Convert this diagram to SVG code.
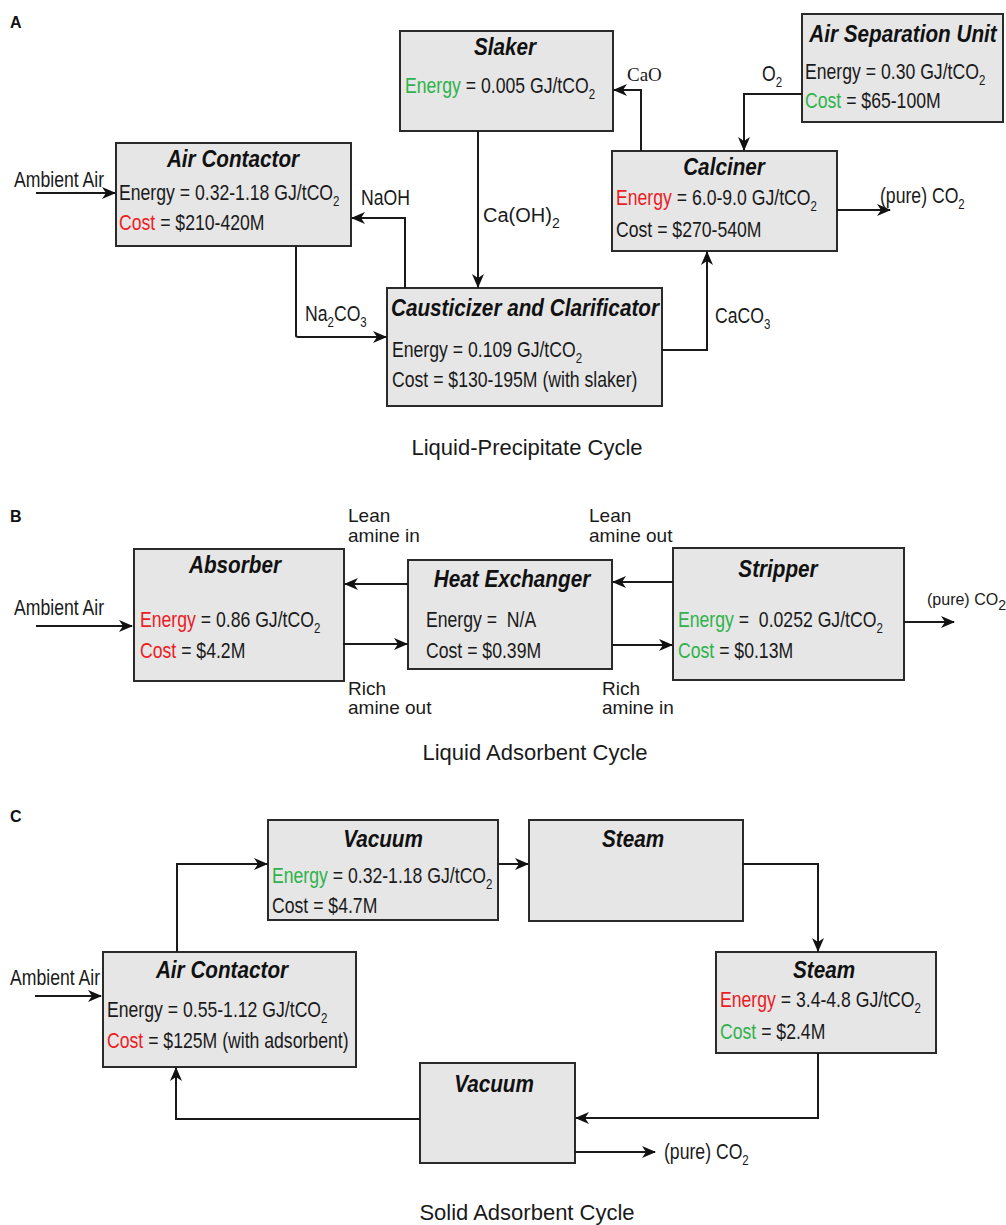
<svg xmlns="http://www.w3.org/2000/svg" width="1006" height="1225" viewBox="0 0 1006 1225">
<style>
.bg{fill:#ffffff}
.box{fill:#e6e6e6;stroke:#2a2a2a;stroke-width:2}
.t{font-family:"Liberation Sans",Arial,sans-serif;font-size:21.5px;fill:#1a1a1a}
.h{font-family:"Liberation Sans",Arial,sans-serif;font-size:23px;font-weight:bold;font-style:italic;fill:#111;text-anchor:middle}
.l{font-family:"Liberation Sans",Arial,sans-serif;font-size:20px;fill:#1a1a1a}
.lb{font-family:"Liberation Sans",Arial,sans-serif;font-size:19px;fill:#1a1a1a}
.cap{font-family:"Liberation Sans",Arial,sans-serif;font-size:22px;fill:#1a1a1a;text-anchor:middle}
.sec{font-family:"Liberation Sans",Arial,sans-serif;font-size:16px;font-weight:bold;fill:#111}
.serif{font-family:"Liberation Serif","Times New Roman",serif;font-size:19px;fill:#1a1a1a}
.r{fill:#ec1c24}
.g{fill:#2fb34a}
.s{font-size:14px}
.ln{fill:none;stroke:#1a1a1a;stroke-width:2;marker-end:url(#ah)}
</style>
<defs>
<marker id="ah" markerUnits="userSpaceOnUse" viewBox="0 0 14 12" refX="13" refY="6" markerWidth="14" markerHeight="12" orient="auto">
<path d="M0,0 L14,6 L0,12 L4,6 Z" fill="#111"/>
</marker>
</defs>
<rect class="bg" x="0" y="0" width="1006" height="1225"/>

<g id="section-labels">
<text class="sec" x="10" y="28">A</text>
<text class="sec" x="10" y="522">B</text>
<text class="sec" x="10" y="822">C</text>
</g>

<!-- ===== Section A ===== -->
<g id="a-air-contactor">
<rect class="box" x="116" y="143" width="235" height="103"/>
<text class="h" transform="translate(233,167) scale(.9,1)">Air Contactor</text>
<text class="t" transform="translate(119,200) scale(.82,1)">Energy = 0.32-1.18 GJ/tCO<tspan class="s" dy="6">2</tspan></text>
<text class="t" transform="translate(119,230) scale(.82,1)"><tspan class="r">Cost</tspan> = $210-420M</text>
</g>
<g id="a-slaker">
<rect class="box" x="400" y="31" width="213" height="100"/>
<text class="h" transform="translate(505,55) scale(.9,1)">Slaker</text>
<text class="t" transform="translate(405,93) scale(.82,1)"><tspan class="g">Energy</tspan> = 0.005 GJ/tCO<tspan class="s" dy="6">2</tspan></text>
</g>
<g id="a-asu">
<rect class="box" x="802" y="14" width="201" height="108"/>
<text class="h" transform="translate(903,42) scale(.9,1)">Air Separation Unit</text>
<text class="t" transform="translate(805,79) scale(.82,1)">Energy = 0.30 GJ/tCO<tspan class="s" dy="6">2</tspan></text>
<text class="t" transform="translate(805,108) scale(.82,1)"><tspan class="g">Cost</tspan> = $65-100M</text>
</g>
<g id="a-calciner">
<rect class="box" x="612" y="151" width="225" height="100"/>
<text class="h" transform="translate(724,175) scale(.9,1)">Calciner</text>
<text class="t" transform="translate(616,205) scale(.82,1)"><tspan class="r">Energy</tspan> = 6.0-9.0 GJ/tCO<tspan class="s" dy="6">2</tspan></text>
<text class="t" transform="translate(616,237) scale(.82,1)">Cost = $270-540M</text>
</g>
<g id="a-causticizer">
<rect class="box" x="387" y="288" width="275" height="118"/>
<text class="h" transform="translate(525,316) scale(.9,1)">Causticizer and Clarificator</text>
<text class="t" transform="translate(392,357) scale(.82,1)">Energy = 0.109 GJ/tCO<tspan class="s" dy="6">2</tspan></text>
<text class="t" transform="translate(392,387) scale(.82,1)">Cost = $130-195M (with slaker)</text>
</g>

<g id="a-connectors">
<path class="ln" d="M36,193 H115"/>
<path class="ln" d="M405,288 V218 H352"/>
<path class="ln" d="M296,247 V336 Q296,337 300,337 H386"/>
<path class="ln" d="M478,131 V287"/>
<path class="ln" d="M641,151 V90 H614"/>
<path class="ln" d="M802,94 H744 V150"/>
<path class="ln" d="M837,210 H890"/>
<path class="ln" d="M662,350 H707 V252"/>
</g>
<g id="a-labels">
<text class="t" transform="translate(14,187) scale(.82,1)">Ambient Air</text>
<text class="t" transform="translate(361,205) scale(.82,1)">NaOH</text>
<text class="t" transform="translate(305,321) scale(.82,1)">Na<tspan class="s" dy="6">2</tspan><tspan dy="-6">CO</tspan><tspan class="s" dy="6">3</tspan></text>
<text class="l" x="483" y="222">Ca(OH)<tspan class="s" dy="6">2</tspan></text>
<text class="serif" x="627" y="81">CaO</text>
<text class="t" transform="translate(762,81) scale(.82,1)">O<tspan class="s" dy="6">2</tspan></text>
<text class="t" transform="translate(880,203) scale(.82,1)">(pure) CO<tspan class="s" dy="6">2</tspan></text>
<text class="t" transform="translate(715,323) scale(.82,1)">CaCO<tspan class="s" dy="6">3</tspan></text>
<text class="cap" x="527" y="455">Liquid-Precipitate Cycle</text>
</g>

<!-- ===== Section B ===== -->
<g id="b-absorber">
<rect class="box" x="134" y="549" width="210" height="132"/>
<text class="h" transform="translate(235,573) scale(.9,1)">Absorber</text>
<text class="t" transform="translate(140,627) scale(.82,1)"><tspan class="r">Energy</tspan> = 0.86 GJ/tCO<tspan class="s" dy="6">2</tspan></text>
<text class="t" transform="translate(140,658) scale(.82,1)"><tspan class="r">Cost</tspan> = $4.2M</text>
</g>
<g id="b-heat-exchanger">
<rect class="box" x="408" y="560" width="204" height="109"/>
<text class="h" transform="translate(512,587) scale(.9,1)">Heat Exchanger</text>
<text class="t" transform="translate(426,627) scale(.82,1)" xml:space="preserve">Energy =  N/A</text>
<text class="t" transform="translate(426,658) scale(.82,1)">Cost = $0.39M</text>
</g>
<g id="b-stripper">
<rect class="box" x="673" y="548" width="231" height="132"/>
<text class="h" transform="translate(778,577) scale(.9,1)">Stripper</text>
<text class="t" transform="translate(678,627) scale(.82,1)" xml:space="preserve"><tspan class="g">Energy</tspan> =  0.0252 GJ/tCO<tspan class="s" dy="6">2</tspan></text>
<text class="t" transform="translate(678,658) scale(.82,1)"><tspan class="g">Cost</tspan> = $0.13M</text>
</g>
<g id="b-connectors">
<path class="ln" d="M36,626 H132"/>
<path class="ln" d="M408,584 H345"/>
<path class="ln" d="M343,644 H407"/>
<path class="ln" d="M673,582 H613"/>
<path class="ln" d="M612,645 H672"/>
<path class="ln" d="M904,622 H954"/>
</g>
<g id="b-labels">
<text class="t" transform="translate(14,615) scale(.82,1)">Ambient Air</text>
<text class="lb" x="348" y="522">Lean</text>
<text class="lb" x="348" y="542">amine in</text>
<text class="lb" x="589" y="522">Lean</text>
<text class="lb" x="589" y="542">amine out</text>
<text class="lb" x="348" y="695">Rich</text>
<text class="lb" x="348" y="714">amine out</text>
<text class="lb" x="602" y="695">Rich</text>
<text class="lb" x="602" y="714">amine in</text>
<text class="l" x="927" y="605" style="font-size:16px">(pure) CO<tspan class="s" dy="5">2</tspan></text>
<text class="cap" x="535" y="760">Liquid Adsorbent Cycle</text>
</g>

<!-- ===== Section C ===== -->
<g id="c-vacuum-1">
<rect class="box" x="268" y="820" width="230" height="100"/>
<text class="h" transform="translate(383,847) scale(.9,1)">Vacuum</text>
<text class="t" transform="translate(272,883) scale(.82,1)"><tspan class="g">Energy</tspan> = 0.32-1.18 GJ/tCO<tspan class="s" dy="6">2</tspan></text>
<text class="t" transform="translate(272,913) scale(.82,1)">Cost = $4.7M</text>
</g>
<g id="c-steam-1">
<rect class="box" x="529" y="820" width="214" height="101"/>
<text class="h" transform="translate(633,847) scale(.9,1)">Steam</text>
</g>
<g id="c-air-contactor">
<rect class="box" x="103" y="952" width="253" height="115"/>
<text class="h" transform="translate(222,978) scale(.9,1)">Air Contactor</text>
<text class="t" transform="translate(107,1017) scale(.82,1)">Energy = 0.55-1.12 GJ/tCO<tspan class="s" dy="6">2</tspan></text>
<text class="t" transform="translate(107,1048) scale(.82,1)"><tspan class="r">Cost</tspan> = $125M (with adsorbent)</text>
</g>
<g id="c-steam-2">
<rect class="box" x="716" y="952" width="220" height="101"/>
<text class="h" transform="translate(824,978) scale(.9,1)">Steam</text>
<text class="t" transform="translate(720,1007) scale(.82,1)"><tspan class="r">Energy</tspan> = 3.4-4.8 GJ/tCO<tspan class="s" dy="6">2</tspan></text>
<text class="t" transform="translate(720,1039) scale(.82,1)"><tspan class="g">Cost</tspan> = $2.4M</text>
</g>
<g id="c-vacuum-2">
<rect class="box" x="420" y="1063" width="155" height="100"/>
<text class="h" transform="translate(494,1092) scale(.9,1)">Vacuum</text>
</g>
<g id="c-connectors">
<path class="ln" d="M35,996 H101"/>
<path class="ln" d="M177,952 V864 H267"/>
<path class="ln" d="M498,864 H528"/>
<path class="ln" d="M743,864 H818 V951"/>
<path class="ln" d="M818,1053 V1118 H576"/>
<path class="ln" d="M420,1119 H176 V1068"/>
<path class="ln" d="M575,1152 H655"/>
</g>
<g id="c-labels">
<text class="t" transform="translate(10,985) scale(.82,1)">Ambient Air</text>
<text class="t" transform="translate(664,1159) scale(.82,1)">(pure) CO<tspan class="s" dy="6">2</tspan></text>
<text class="cap" x="527" y="1220">Solid Adsorbent Cycle</text>
</g>
</svg>
